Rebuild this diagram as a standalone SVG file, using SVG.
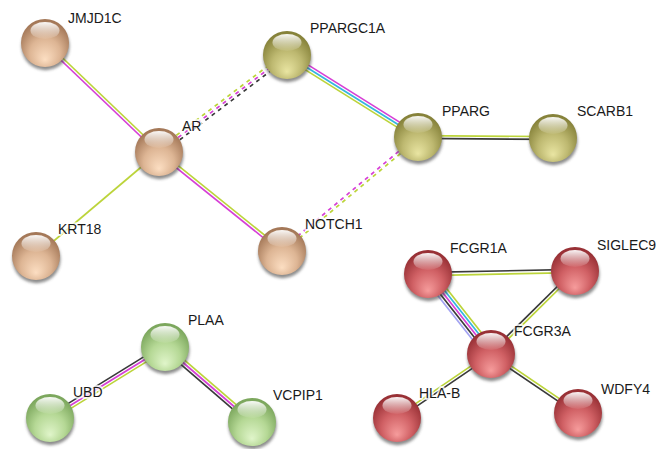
<svg xmlns="http://www.w3.org/2000/svg" width="670" height="449" viewBox="0 0 670 449">
<style>
.e{fill:none;stroke-width:1.7}
.d{stroke-dasharray:4,4}
.tm{stroke:#bcd43a}
.ex{stroke:#d63fd6}
.db{stroke:#35b5df}
.co{stroke:#3a3a3a}
.ho{stroke:#a3a3f2}
.lbl{font-family:"Liberation Sans",Arial,sans-serif;font-size:14px;fill:#1a1a1a;stroke:#ffffff;stroke-opacity:0.75;stroke-width:4;stroke-linejoin:round;paint-order:stroke}
.sh{fill:#3f3f3f;opacity:0.6;filter:url(#blur)}
.hl{fill:url(#hlg)}
</style>
<defs>
<filter id="blur" x="-30%" y="-30%" width="160%" height="160%"><feGaussianBlur stdDeviation="1.6"/></filter>
<radialGradient id="gt" cx="0.5" cy="0.62" r="0.58" fx="0.5" fy="0.85">
<stop offset="0" stop-color="#fcdec2"/><stop offset="0.55" stop-color="#ddb594"/><stop offset="1" stop-color="#a47858"/></radialGradient>
<radialGradient id="go" cx="0.5" cy="0.62" r="0.58" fx="0.5" fy="0.85">
<stop offset="0" stop-color="#e9e5a2"/><stop offset="0.55" stop-color="#bdb870"/><stop offset="1" stop-color="#86823a"/></radialGradient>
<radialGradient id="gr" cx="0.5" cy="0.62" r="0.58" fx="0.5" fy="0.85">
<stop offset="0" stop-color="#f69c9c"/><stop offset="0.55" stop-color="#d06064"/><stop offset="1" stop-color="#983035"/></radialGradient>
<radialGradient id="gg" cx="0.5" cy="0.62" r="0.58" fx="0.5" fy="0.85">
<stop offset="0" stop-color="#e0f5ca"/><stop offset="0.55" stop-color="#b5d895"/><stop offset="1" stop-color="#7ca75d"/></radialGradient>
<linearGradient id="hlg" x1="0" y1="0" x2="0" y2="1">
<stop offset="0" stop-color="#ffffff" stop-opacity="0.95"/><stop offset="1" stop-color="#ffffff" stop-opacity="0.05"/></linearGradient>
<g id="ball"><circle class="sh" cx="0.5" cy="3.2" r="24"/></g>
</defs>
<rect width="670" height="449" fill="#ffffff"/>
<g id="edges">
<line class="e ex" x1="44.04" y1="44.01" x2="158.04" y2="153.01"/>
<line class="e tm" x1="45.96" y1="41.99" x2="159.96" y2="150.99"/>
<line class="e tm" x1="159" y1="152" x2="36" y2="256"/>
<line class="e ex" x1="158.12" y1="153.1" x2="281.12" y2="252.1"/>
<line class="e tm" x1="159.88" y1="150.9" x2="282.88" y2="249.9"/>
<line class="e d tm" x1="157.31" y1="149.77" x2="285.31" y2="52.77"/>
<line class="e d ex" x1="159" y1="152" x2="287" y2="55"/>
<line class="e d co" x1="160.69" y1="154.23" x2="288.69" y2="57.23"/>
<line class="e ex" x1="288.49" y1="52.63" x2="419.49" y2="134.63"/>
<line class="e db" x1="287" y1="55" x2="418" y2="137"/>
<line class="e tm" x1="285.51" y1="57.37" x2="416.51" y2="139.37"/>
<line class="e d ex" x1="417.1" y1="135.93" x2="281.1" y2="249.93"/>
<line class="e d tm" x1="418.9" y1="138.07" x2="282.9" y2="252.07"/>
<line class="e tm" x1="418" y1="135.6" x2="553" y2="136.6"/>
<line class="e co" x1="418" y1="138.4" x2="553" y2="139.4"/>
<line class="e co" x1="428" y1="272.4" x2="575" y2="269.4"/>
<line class="e tm" x1="428" y1="275.6" x2="575" y2="272.6"/>
<line class="e ho" x1="423.6" y1="277.47" x2="486.6" y2="357.47"/>
<line class="e co" x1="425.8" y1="275.73" x2="488.8" y2="355.73"/>
<line class="e ex" x1="428" y1="274" x2="491" y2="354"/>
<line class="e db" x1="430.2" y1="272.27" x2="493.2" y2="352.27"/>
<line class="e tm" x1="432.4" y1="270.53" x2="495.4" y2="350.53"/>
<line class="e co" x1="574.01" y1="270" x2="490.01" y2="353"/>
<line class="e tm" x1="575.99" y1="272" x2="491.99" y2="355"/>
<line class="e tm" x1="490.21" y1="352.84" x2="396.21" y2="416.84"/>
<line class="e co" x1="491.79" y1="355.16" x2="397.79" y2="419.16"/>
<line class="e tm" x1="491.79" y1="352.84" x2="578.79" y2="411.84"/>
<line class="e co" x1="490.21" y1="355.16" x2="577.21" y2="414.16"/>
<line class="e co" x1="163.53" y1="344.61" x2="48.53" y2="415.61"/>
<line class="e ex" x1="165" y1="347" x2="50" y2="418"/>
<line class="e tm" x1="166.47" y1="349.39" x2="51.47" y2="420.39"/>
<line class="e tm" x1="166.83" y1="344.88" x2="253.83" y2="419.88"/>
<line class="e ex" x1="165" y1="347" x2="252" y2="422"/>
<line class="e co" x1="163.17" y1="349.12" x2="250.17" y2="424.12"/>
</g>
<g id="n-JMJD1C"><use href="#ball" x="45" y="43"/><circle cx="45" cy="43" r="24" fill="url(#gt)"/><ellipse class="hl" cx="45" cy="30.5" rx="14.5" ry="8.5"/></g>
<g id="n-AR"><use href="#ball" x="159" y="152"/><circle cx="159" cy="152" r="24" fill="url(#gt)"/><ellipse class="hl" cx="159" cy="139.5" rx="14.5" ry="8.5"/></g>
<g id="n-KRT18"><use href="#ball" x="36" y="256"/><circle cx="36" cy="256" r="24" fill="url(#gt)"/><ellipse class="hl" cx="36" cy="243.5" rx="14.5" ry="8.5"/></g>
<g id="n-NOTCH1"><use href="#ball" x="282" y="251"/><circle cx="282" cy="251" r="24" fill="url(#gt)"/><ellipse class="hl" cx="282" cy="238.5" rx="14.5" ry="8.5"/></g>
<g id="n-PPARGC1A"><use href="#ball" x="287" y="55"/><circle cx="287" cy="55" r="24" fill="url(#go)"/><ellipse class="hl" cx="287" cy="42.5" rx="14.5" ry="8.5"/></g>
<g id="n-PPARG"><use href="#ball" x="418" y="137"/><circle cx="418" cy="137" r="24" fill="url(#go)"/><ellipse class="hl" cx="418" cy="124.5" rx="14.5" ry="8.5"/></g>
<g id="n-SCARB1"><use href="#ball" x="553" y="138"/><circle cx="553" cy="138" r="24" fill="url(#go)"/><ellipse class="hl" cx="553" cy="125.5" rx="14.5" ry="8.5"/></g>
<g id="n-FCGR1A"><use href="#ball" x="428" y="274"/><circle cx="428" cy="274" r="24" fill="url(#gr)"/><ellipse class="hl" cx="428" cy="261.5" rx="14.5" ry="8.5"/></g>
<g id="n-SIGLEC9"><use href="#ball" x="575" y="271"/><circle cx="575" cy="271" r="24" fill="url(#gr)"/><ellipse class="hl" cx="575" cy="258.5" rx="14.5" ry="8.5"/></g>
<g id="n-FCGR3A"><use href="#ball" x="491" y="354"/><circle cx="491" cy="354" r="24" fill="url(#gr)"/><ellipse class="hl" cx="491" cy="341.5" rx="14.5" ry="8.5"/></g>
<g id="n-HLA-B"><use href="#ball" x="397" y="418"/><circle cx="397" cy="418" r="24" fill="url(#gr)"/><ellipse class="hl" cx="397" cy="405.5" rx="14.5" ry="8.5"/></g>
<g id="n-WDFY4"><use href="#ball" x="578" y="413"/><circle cx="578" cy="413" r="24" fill="url(#gr)"/><ellipse class="hl" cx="578" cy="400.5" rx="14.5" ry="8.5"/></g>
<g id="n-PLAA"><use href="#ball" x="165" y="347"/><circle cx="165" cy="347" r="24" fill="url(#gg)"/><ellipse class="hl" cx="165" cy="334.5" rx="14.5" ry="8.5"/></g>
<g id="n-UBD"><use href="#ball" x="50" y="418"/><circle cx="50" cy="418" r="24" fill="url(#gg)"/><ellipse class="hl" cx="50" cy="405.5" rx="14.5" ry="8.5"/></g>
<g id="n-VCPIP1"><use href="#ball" x="252" y="422"/><circle cx="252" cy="422" r="24" fill="url(#gg)"/><ellipse class="hl" cx="252" cy="409.5" rx="14.5" ry="8.5"/></g>
<g id="labels">
<text class="lbl" x="68" y="23">JMJD1C</text>
<text class="lbl" x="182" y="131">AR</text>
<text class="lbl" x="310" y="33">PPARGC1A</text>
<text class="lbl" x="442" y="116">PPARG</text>
<text class="lbl" x="577" y="116">SCARB1</text>
<text class="lbl" x="58" y="234">KRT18</text>
<text class="lbl" x="305" y="229">NOTCH1</text>
<text class="lbl" x="450" y="253">FCGR1A</text>
<text class="lbl" x="597" y="250">SIGLEC9</text>
<text class="lbl" x="514" y="336">FCGR3A</text>
<text class="lbl" x="419" y="398">HLA-B</text>
<text class="lbl" x="601" y="394">WDFY4</text>
<text class="lbl" x="188" y="325">PLAA</text>
<text class="lbl" x="73" y="397">UBD</text>
<text class="lbl" x="273" y="400">VCPIP1</text>
</g>
</svg>
